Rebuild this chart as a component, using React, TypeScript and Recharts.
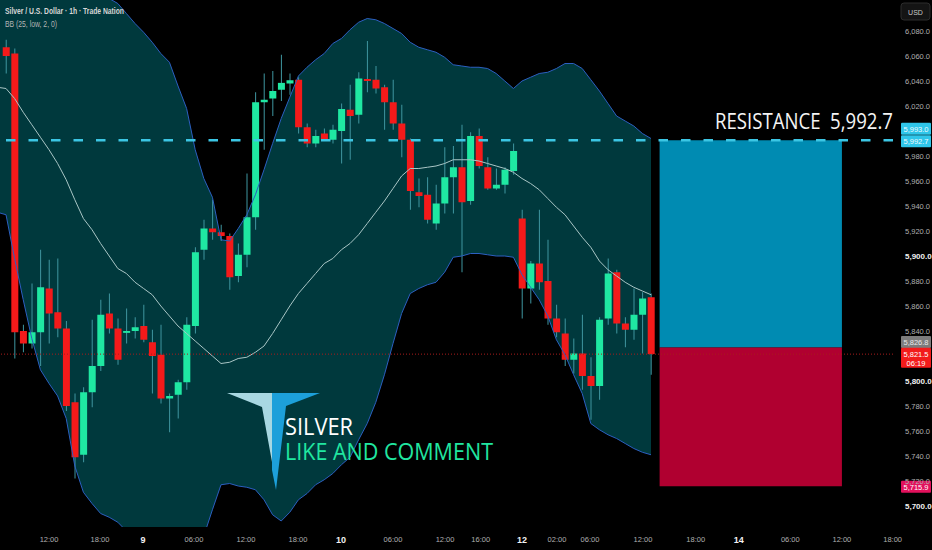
import React from "react";
import {
  ComposedChart,
  Area,
  Line,
  Bar,
  XAxis,
  YAxis,
  ReferenceLine,
  ReferenceArea,
} from "recharts";

// ---------- candles (hourly, index 0..75) ----------
const opens = [
  6067, 6062, 5840, 5830, 5839, 5874, 5855, 5842, 5783, 5741,
  5791, 5812, 5854, 5842, 5838.5, 5840, 5844, 5831, 5821, 5786,
  5789, 5799, 5844, 5905, 5922, 5919, 5916, 5884, 5901, 5931,
  6023, 6026, 6033, 6038, 6041, 6003, 5990, 5998, 5993, 6000,
  6017, 6013, 6041.6, 6041, 6035, 6023, 6006, 5993, 5951, 5949,
  5926, 5942, 5963, 5971, 5944, 5996, 5971, 5954, 5957, 5968,
  5930, 5874, 5894, 5880, 5850, 5838, 5817, 5822, 5804, 5796,
  5850, 5887, 5846, 5841, 5853, 5867,
];
const highs = [
  6073, 6066, 5845, 5878, 5905, 5897, 5898, 5848, 5790, 5795,
  5849, 5865, 5870, 5850, 5858, 5851, 5861, 5841, 5845, 5790,
  5801, 5851, 5907, 5929, 5945, 5925, 5918, 5910, 5966, 6031,
  6046, 6048, 6061, 6046, 6043, 6006, 6001, 6002, 6005, 6022,
  6037, 6047, 6072, 6052, 6037, 6041, 6021, 5994, 5962, 5963,
  5957, 5987, 5988, 6005, 5999, 6002, 5979, 5970, 5971, 5990,
  5937, 5896, 5937, 5913, 5861, 5850, 5834, 5853, 5819, 5851,
  5898, 5889, 5851, 5874, 5871, 5870,
];
const lows = [
  6046, 5818, 5823, 5826, 5812, 5830, 5835, 5776, 5722, 5735,
  5779, 5808, 5838, 5813, 5830, 5834, 5831, 5790, 5782, 5759,
  5770, 5793, 5838, 5897, 5913, 5912, 5873, 5879, 5891, 5921,
  5985, 6012, 6024, 6029, 5998, 5987, 5987, 5992, 5990, 5974,
  5977, 6006, 6031, 6030, 6001, 6001, 5979, 5937, 5939, 5926,
  5921, 5934, 5934, 5887, 5941, 5970, 5953, 5953, 5950, 5965,
  5850, 5862, 5873, 5845, 5835, 5812, 5806, 5793, 5769, 5785,
  5845, 5838, 5827, 5833, 5822, 5805,
];
const closes = [
  6060, 5839, 5830, 5839, 5875, 5854, 5842, 5780, 5739, 5791,
  5812, 5853, 5842, 5817, 5840, 5843, 5833, 5820, 5786, 5788,
  5799, 5845, 5903, 5922, 5919, 5916, 5883, 5901, 5931, 6023,
  6025, 6032, 6038.5, 6040.6, 6003, 5990, 5996, 5993, 6001, 6017.6,
  6012, 6042, 6040, 6034, 6023, 6006, 5993, 5952, 5948, 5929,
  5942, 5963, 5971, 5943, 5996, 5972, 5954, 5957, 5969, 5984,
  5874, 5894, 5879, 5850, 5839, 5817, 5822, 5804, 5796, 5849,
  5886, 5846, 5841, 5853, 5866, 5821.5,
];

// ---------- Bollinger Bands (index -1..75) ----------
const bandStartIndex = -1;
const bandUpper = [
  6150, 6148, 6145, 6142, 6140, 6137, 6133, 6129, 6125, 6120,
  6115, 6111, 6108, 6106, 6102, 6094, 6086, 6079, 6071, 6062,
  6055, 6036, 6018, 5985, 5962, 5947, 5913, 5912, 5922, 5933,
  5949, 5969, 5990, 6010, 6027, 6044, 6051, 6057, 6062, 6070,
  6074, 6081, 6087, 6090, 6089, 6086, 6082, 6078, 6071, 6067,
  6065, 6063, 6059, 6053, 6052, 6051, 6051, 6050, 6046, 6040,
  6034, 6040, 6043, 6046, 6047, 6050, 6054, 6054, 6050, 6041,
  6032, 6022, 6012, 6008, 6004, 5998, 5994,
];
const bandLower = [
  5935, 5933, 5898, 5865, 5834, 5809, 5798, 5788, 5770, 5732,
  5711, 5702, 5694, 5691, 5687, 5680, 5670, 5665, 5662, 5660,
  5660, 5662, 5665, 5668, 5676, 5697, 5717, 5718, 5716, 5715,
  5713, 5705, 5693, 5688, 5695, 5705, 5710, 5717, 5721, 5726,
  5733, 5739, 5753, 5766, 5783, 5805, 5830, 5854, 5870, 5874,
  5877, 5879, 5887, 5899, 5900, 5902, 5902, 5901, 5900, 5900,
  5899, 5885, 5875, 5865, 5852, 5833, 5821, 5805, 5790, 5766,
  5761, 5757, 5754, 5750, 5746, 5743, 5741,
];
const bandBasis = [
  6035, 6034, 6026, 6015, 6005, 5995, 5985, 5974, 5961, 5945,
  5930, 5921, 5910, 5900, 5890, 5886, 5879, 5874, 5869, 5860,
  5852, 5844, 5838, 5832, 5826, 5820, 5814, 5815, 5818, 5819,
  5823, 5828, 5838, 5849, 5860, 5870, 5878, 5886, 5894, 5898,
  5905, 5910, 5917, 5926, 5935, 5944, 5954, 5964, 5970, 5970,
  5971, 5972, 5974, 5977, 5977, 5977, 5976, 5974, 5972, 5970,
  5967, 5962, 5958, 5953, 5946, 5939, 5933, 5924, 5915, 5907,
  5896, 5889, 5884, 5879, 5875, 5872, 5869,
];

// ---------- levels / boxes ----------
const resistance = 5992.7;
const currentPrice = 5821.5;
const boxStartIndex = 76;
const boxEndIndex = 97.2;
const boxTop = 5992.7;
const boxMid = 5826.8;
const boxBottom = 5715.9;

// ---------- axes ----------
const xDomain = [-0.7, 103.14];
const xTickIndex = [5, 10.93, 15.93, 21.86, 27.9, 33.95, 38.95, 45, 51.05, 55.2, 60, 64.07, 67.9, 74.07, 80.2, 85.2, 91.2, 97.2, 103.1];
const xTickLabels = ["12:00", "18:00", "9", "06:00", "12:00", "18:00", "10", "06:00", "12:00", "16:00", "12", "02:00", "06:00", "12:00", "18:00", "14", "06:00", "12:00", "18:00"];
const dayLabels = ["9", "10", "12", "14"];
const yDomain = [5683.2, 6104.8];
const yTicks = [5700, 5720, 5740, 5760, 5780, 5800, 5840, 5860, 5880, 5900, 5920, 5940, 5960, 5980, 6020, 6040, 6060, 6080];

const priceTags = [
  { value: 5993.0, text: "5,993.0", sub: "", bg: "#2fc6ea", fg: "#eefcff", dy: -11 },
  { value: 5992.7, text: "5,992.7", sub: "", bg: "#2fc6ea", fg: "#eefcff", dy: 1 },
  { value: 5826.8, text: "5,826.8", sub: "", bg: "#7c7c7c", fg: "#e8e8e8", dy: -5.5 },
  { value: 5821.5, text: "5,821.5", sub: "06:19", bg: "#f21b1b", fg: "#ffffff", dy: 3.5 },
  { value: 5715.9, text: "5,715.9", sub: "", bg: "#e2115c", fg: "#ffffff", dy: 0.5 },
];

const GREEN = "#1fe8a2";
const RED = "#f41a1a";
const WICK = "#3f96a0";

const rows = bandUpper.map((u, k) => {
  const i = k + bandStartIndex;
  const has = i >= 0 && i < opens.length;
  return {
    i,
    up: u,
    lo: bandLower[k],
    mid: bandBasis[k],
    band: [bandLower[k], u],
    o: has ? opens[i] : undefined,
    h: has ? highs[i] : undefined,
    l: has ? lows[i] : undefined,
    c: has ? closes[i] : undefined,
    candle: has ? [lows[i], highs[i]] : undefined,
  };
});

const CandleShape = (props: any) => {
  const { x, y, width, height, payload } = props;
  if (!payload || payload.o === undefined || !isFinite(y) || !isFinite(height)) return null;
  const top = Math.min(y, y + height);
  const hgt = Math.abs(height);
  const range = payload.h - payload.l;
  const k = range > 0 ? hgt / range : 0;
  const bodyTop = top + (payload.h - Math.max(payload.o, payload.c)) * k;
  const bodyBot = top + (payload.h - Math.min(payload.o, payload.c)) * k;
  const up = payload.c >= payload.o;
  const cx = x + width / 2;
  return (
    <g>
      <line x1={cx} x2={cx} y1={top} y2={top + hgt} stroke={WICK} strokeWidth={1} />
      <rect
        x={x}
        y={bodyTop}
        width={width}
        height={Math.max(1.5, bodyBot - bodyTop)}
        fill={up ? GREEN : RED}
      />
    </g>
  );
};

const XTick = (props: any) => {
  const { x, y, payload } = props;
  const idx = xTickIndex.indexOf(payload.value);
  const label = idx >= 0 ? xTickLabels[idx] : "";
  const isDay = dayLabels.includes(label);
  return (
    <text
      x={x}
      y={y}
      dy={isDay ? 8 : 7}
      textAnchor="middle"
      fontFamily="Liberation Sans, Arial, sans-serif"
      fontSize={isDay ? 9 : 7.5}
      fontWeight={isDay ? 700 : 400}
      fill={isDay ? "#f2f2f2" : "#b0b0b0"}
    >
      {label}
    </text>
  );
};

const fmt = (v: number) =>
  v.toLocaleString("en-US", { minimumFractionDigits: 1, maximumFractionDigits: 1 });

const YTick = (props: any) => {
  const { x, y, payload } = props;
  const bold = payload.value % 100 === 0;
  return (
    <text
      x={x}
      y={y}
      dx={4}
      dy={2.8}
      textAnchor="start"
      fontFamily="Liberation Sans, Arial, sans-serif"
      fontSize={bold ? 8 : 7.5}
      fontWeight={bold ? 700 : 400}
      fill={bold ? "#f0f0f0" : "#b0b0b0"}
    >
      {fmt(payload.value)}
    </text>
  );
};

const makeTag = (tag: any) => (props: any) => {
  const vb = props.viewBox || {};
  const x = (vb.x || 0) + (vb.width || 0) + 8;
  const cy = (vb.y || 0) + tag.dy;
  const h = tag.sub ? 20 : 12;
  const top = cy - h / 2;
  return (
    <g>
      <rect x={x} y={top} width={30} height={h} fill={tag.bg} rx={1} />
      <text
        x={x + 15}
        y={top + 9}
        textAnchor="middle"
        fontFamily="Liberation Sans, Arial, sans-serif"
        fontSize={7.5}
        fill={tag.fg}
      >
        {tag.text}
      </text>
      {tag.sub ? (
        <text
          x={x + 15}
          y={top + 18}
          textAnchor="middle"
          fontFamily="Liberation Sans, Arial, sans-serif"
          fontSize={7.5}
          fill={tag.fg}
        >
          {tag.sub}
        </text>
      ) : null}
    </g>
  );
};

const ResistanceLabel = (props: any) => {
  const vb = props.viewBox || {};
  return (
    <text
      x={(vb.x || 0) + (vb.width || 0)}
      y={(vb.y || 0) - 11}
      textAnchor="end"
      fontFamily="Open Sans, DejaVu Sans, sans-serif"
      fontSize={21}
      fill="#f4f4f4"
      textLength={178}
      lengthAdjust="spacingAndGlyphs"
      style={{ whiteSpace: "pre" }}
      xmlSpace="preserve"
    >
      {"RESISTANCE  5,992.7"}
    </text>
  );
};

export default function App() {
  return (
    <div
      style={{
        position: "fixed",
        left: 0,
        top: 0,
        width: 932,
        height: 550,
        background: "#000000",
        overflow: "hidden",
      }}
    >
      <ComposedChart
        width={932}
        height={550}
        data={rows}
        margin={{ top: 0, right: 0, bottom: 0, left: 0 }}
      >
        <XAxis
          dataKey="i"
          type="number"
          domain={xDomain}
          ticks={xTickIndex}
          interval={0}
          tick={<XTick />}
          tickLine={false}
          axisLine={false}
          height={23}
          allowDataOverflow
        />
        <YAxis
          orientation="right"
          type="number"
          domain={yDomain}
          ticks={yTicks}
          interval={0}
          tick={<YTick />}
          tickLine={false}
          axisLine={false}
          width={39}
          allowDataOverflow
        />
        <Area
          type="linear"
          dataKey="band"
          stroke="none"
          fill="#00393d"
          fillOpacity={1}
          isAnimationActive={false}
          activeDot={false}
        />
        <Line type="linear" dataKey="up" stroke="#2c5fc0" strokeWidth={1} dot={false} activeDot={false} isAnimationActive={false} />
        <Line type="linear" dataKey="lo" stroke="#2c5fc0" strokeWidth={1} dot={false} activeDot={false} isAnimationActive={false} />
        <Line type="linear" dataKey="mid" stroke="#a9c6c6" strokeWidth={1} dot={false} activeDot={false} isAnimationActive={false} />
        <ReferenceLine y={currentPrice} stroke="#a81c1c" strokeDasharray="1 2" strokeWidth={1} />
        <Bar dataKey="candle" barSize={7} shape={<CandleShape />} isAnimationActive={false} />
        <ReferenceArea x1={boxStartIndex} x2={boxEndIndex} y1={boxMid} y2={boxTop} fill="#008bb2" fillOpacity={1} stroke="none" />
        <ReferenceArea x1={boxStartIndex} x2={boxEndIndex} y1={boxBottom} y2={boxMid} fill="#b00030" fillOpacity={1} stroke="none" />
        <ReferenceLine
          y={resistance}
          stroke="#3cc6e4"
          strokeWidth={2.5}
          strokeDasharray="9.5 13"
          label={<ResistanceLabel />}
        />
        {priceTags.map((t, n) => (
          <ReferenceLine key={n} y={t.value} stroke="none" label={makeTag(t)} />
        ))}
      </ComposedChart>

      <svg
        width={932}
        height={550}
        style={{ position: "absolute", left: 0, top: 0, pointerEvents: "none" }}
      >
        <text
          x={5}
          y={14}
          fontFamily="Liberation Sans, Arial, sans-serif"
          fontSize={8.5}
          fontWeight={700}
          fill="#d6d6d6"
          textLength={119}
          lengthAdjust="spacingAndGlyphs"
        >
          Silver / U.S. Dollar · 1h · Trade Nation
        </text>
        <text
          x={5}
          y={27}
          fontFamily="Liberation Sans, Arial, sans-serif"
          fontSize={8.5}
          fill="#b4b4b4"
          textLength={52}
          lengthAdjust="spacingAndGlyphs"
        >
          BB (25, low, 2, 0)
        </text>
        <rect x={901} y={3} width={29} height={17} rx={3} fill="#141414" stroke="#2c2c2c" />
        <text
          x={915.5}
          y={14.5}
          textAnchor="middle"
          fontFamily="Liberation Sans, Arial, sans-serif"
          fontSize={7}
          fill="#c8c8c8"
        >
          USD
        </text>
        <polygon points="227,393 272,393 272,462 262,407" fill="#a8d8e2" />
        <polygon points="272,393 320,393 286,406 276,490 272,470" fill="#1da0da" />
        <text
          x={285}
          y={435}
          fontFamily="Open Sans, DejaVu Sans, sans-serif"
          fontSize={24}
          fill="#ffffff"
          textLength={68}
          lengthAdjust="spacingAndGlyphs"
        >
          SILVER
        </text>
        <text
          x={285}
          y={460}
          fontFamily="Open Sans, DejaVu Sans, sans-serif"
          fontSize={24}
          fill="#20e6a0"
          textLength={208}
          lengthAdjust="spacingAndGlyphs"
        >
          LIKE AND COMMENT
        </text>
      </svg>
    </div>
  );
}
